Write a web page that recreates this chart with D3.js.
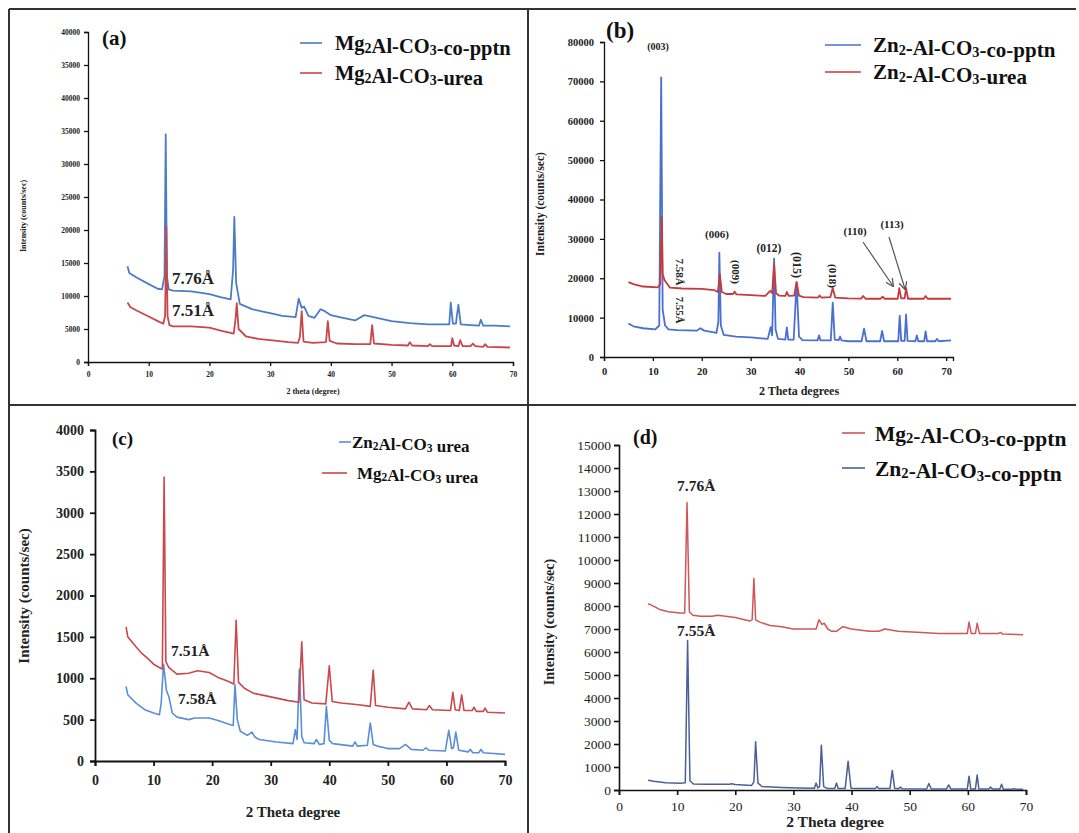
<!DOCTYPE html>
<html>
<head>
<meta charset="utf-8">
<script src="https://cdn.jsdelivr.net/npm/d3@7"></script>
<style>
body { margin: 0; background: #fff; }
svg { display: block; font-family: "Liberation Serif", "Times New Roman", serif; }
</style>
</head>
<body>
<svg id="chart" width="1079" height="833"></svg>
<script>
// (a) Mg2Al-CO3, co-precipitation vs urea
const aBlue = [[6.5,14500],[6.8,13500],[8,12800],[10,11800],[11.5,11100],[12.2,11000],[12.6,13000],[12.8,34500],[13.0,13000],[13.3,11000],[14,10800],[17,10700],[20,10300],[22,9800],[23.5,9500],[23.9,14000],[24.1,22000],[24.4,12000],[25,8800],[27,8000],[29,7600],[30,7400],[32,7000],[34.2,6800],[34.7,9600],[35.2,8200],[35.6,8400],[36.3,7000],[37.3,6700],[38.3,8000],[39,7700],[40,7100],[42,6700],[44,6300],[45.5,7100],[47,6800],[50,6200],[53,5900],[56,5700],[59.5,5700],[59.75,9000],[60.1,5800],[60.6,5800],[61,8700],[61.4,5700],[63,5600],[64.4,5500],[64.7,6400],[65.1,5500],[67,5500],[69.5,5400]];
const aRed = [[6.5,9000],[7,8300],[8,7800],[10,6900],[11.5,6200],[12.4,5800],[12.7,7000],[12.9,20500],[13.1,7000],[13.4,5600],[14,5400],[17,5400],[20,5200],[22,4700],[24,4300],[24.3,6500],[24.5,8900],[24.8,5000],[26,3900],[28,3500],[30,3300],[33,3000],[34.6,2900],[34.9,3800],[35.2,7700],[35.5,3100],[37,2900],[39.2,3000],[39.5,6200],[39.8,3200],[41,2800],[44,2700],[46.5,2700],[46.8,5600],[47.1,2800],[50,2600],[52.7,2500],[53,3000],[53.4,2500],[56,2400],[56.3,2700],[56.7,2400],[59.8,2400],[60,3600],[60.3,2500],[61,2400],[61.3,3300],[61.7,2400],[63,2400],[63.4,2800],[63.8,2400],[65.1,2300],[65.4,2700],[65.8,2300],[69.5,2200]];
const aYTicks = [0,5000,10000,15000,20000,25000,30000,35000,40000,45000,50000];
const aYLabels = ["0","5000","10000","15000","20000","25000","30000","35000","40000","35000","40000"];

// (b) Zn2-Al-CO3, co-precipitation vs urea
const bBlue = [[5,8500],[6,7800],[8,7300],[10.5,7000],[11.3,8000],[11.7,71000],[12.0,12000],[12.5,8000],[13.2,7000],[15,6800],[19,6700],[19.7,7300],[20.5,6700],[23,6100],[23.4,9000],[23.6,26500],[23.9,8000],[24.5,5600],[27,5200],[30,5000],[33.5,4600],[34.1,7600],[34.4,5500],[34.8,25000],[35.1,7000],[35.6,4600],[37.1,4400],[37.4,7500],[37.7,4400],[38.8,4400],[39.4,19000],[39.9,5200],[40.6,4300],[43.7,4200],[44,5500],[44.3,4200],[46.4,4200],[46.8,13800],[47.2,4400],[48,4300],[48.3,5200],[48.6,4200],[50,4000],[52.7,4000],[53.2,7200],[53.7,4000],[56.5,4000],[56.9,6600],[57.3,4000],[60.2,4000],[60.5,10500],[60.8,4100],[61.5,4100],[61.8,10800],[62.1,4100],[63.7,4000],[64,5500],[64.3,4000],[65.5,4000],[65.8,6500],[66.1,4000],[67.8,4000],[68.1,4600],[68.5,4000],[71,4200]];
const bRed = [[5,19000],[6,18500],[8,17900],[11,17700],[11.5,18500],[11.8,35500],[12.0,21000],[12.4,19500],[13.5,17600],[16,17400],[20,17300],[22.5,17000],[23.3,16500],[23.7,21000],[24.1,16500],[25,16000],[26.4,16000],[26.7,16600],[27.1,15900],[30,15700],[33,15500],[34,16800],[34.4,16200],[34.8,23500],[35.2,16200],[35.8,15600],[37.1,15500],[37.4,16500],[37.8,15500],[38.9,15600],[39.4,19000],[39.9,15600],[40.8,15200],[43.8,15100],[44.1,15600],[44.5,15100],[46.3,15200],[46.8,17500],[47.3,15100],[50,14900],[52.6,14800],[53,15500],[53.5,14800],[56.6,14800],[57,15300],[57.4,14800],[60.1,14800],[60.4,17500],[60.8,14900],[61.5,14900],[61.8,17500],[62.2,14800],[65.4,14800],[65.8,15500],[66.2,14800],[71,14800]];
const bYTicks = [0,10000,20000,30000,40000,50000,60000,70000,80000];

// (c) urea samples
const cRed = [[5.3,1620],[5.6,1500],[7,1380],[8,1300],[9,1240],[10,1170],[11,1130],[11.5,1110],[11.8,3430],[12.1,1200],[12.6,1130],[14,1050],[16,1060],[17.5,1090],[19.5,1070],[21,1010],[22.5,970],[23.7,930],[24.1,1700],[24.5,950],[25.5,880],[27,820],[29,790],[31,760],[33,730],[34.8,710],[35.3,1440],[35.7,740],[37,700],[39.4,690],[40,1150],[40.5,720],[42,700],[45,680],[47,660],[47.5,1100],[47.9,670],[50,650],[53,630],[53.6,710],[54.2,630],[56.6,620],[57.1,670],[57.6,620],[60.7,610],[61.1,830],[61.5,620],[62.2,610],[62.6,800],[63,610],[64.4,610],[64.7,650],[65.1,600],[66.3,600],[66.6,640],[67,590],[70,580]];
const cBlue = [[5.3,900],[5.6,800],[7,700],[8.5,620],[10,580],[11,560],[11.3,700],[11.7,1170],[12.2,850],[12.6,780],[13.2,580],[14,530],[16,500],[17,520],[19.5,520],[21,490],[23,440],[23.6,430],[23.9,920],[24.3,500],[24.8,360],[26,310],[26.8,350],[27.3,290],[28,260],[31,230],[33.8,210],[34.2,380],[34.5,260],[34.9,1110],[35.3,300],[35.7,220],[37.4,210],[37.8,260],[38.3,200],[39.1,210],[39.5,660],[40,250],[40.6,210],[44,180],[44.4,230],[44.8,180],[46.5,190],[47,460],[47.5,200],[48.2,180],[50,150],[52,150],[53,200],[54,140],[56,130],[56.5,160],[57,130],[59.8,120],[60.4,370],[60.9,150],[61.2,160],[61.6,350],[62.1,130],[63.7,110],[64.1,140],[64.5,100],[65.5,100],[65.9,140],[66.3,100],[68,90],[70,80]];
const cYTicks = [0,500,1000,1500,2000,2500,3000,3500,4000];

// (d) co-precipitation samples
const dRed = [[5,8100],[5.5,8050],[7,7850],[8.5,7750],[10.5,7700],[11.3,7700],[11.7,12500],[12.1,7750],[12.7,7600],[14,7550],[16,7550],[17,7600],[20,7500],[22.5,7350],[22.9,7400],[23.2,9200],[23.5,7400],[24.2,7300],[26,7150],[28,7100],[30,7000],[33.9,7000],[34.4,7400],[34.9,7200],[35.3,7250],[35.9,7000],[36.6,6900],[37.4,6900],[38.5,7100],[40,7000],[43,6900],[44.7,6900],[45.7,7000],[48,6900],[52,6850],[55,6800],[59.9,6800],[60.2,7300],[60.6,6800],[61.3,6800],[61.6,7250],[62,6800],[65.2,6800],[65.6,6850],[66,6780],[69.5,6750]];
const dBlue = [[5,420],[6,380],[8,320],[10.5,290],[11.4,320],[11.8,6500],[12.2,400],[12.8,260],[15,250],[19,250],[19.4,270],[20,240],[22.8,200],[23.2,350],[23.5,2100],[23.9,300],[24.6,150],[28,110],[31,90],[33.6,80],[33.9,300],[34.2,90],[34.5,150],[34.8,1950],[35.2,150],[35.8,70],[37.1,60],[37.4,300],[37.7,60],[38.9,70],[39.4,1250],[39.9,80],[41,60],[44.1,60],[44.4,150],[44.7,60],[46.6,60],[47.0,850],[47.4,80],[48.1,50],[48.4,130],[48.7,50],[52.9,40],[53.3,280],[53.7,40],[56.3,40],[56.7,220],[57.1,40],[59.9,40],[60.2,600],[60.5,40],[61.3,40],[61.6,650],[61.9,40],[63.6,40],[63.9,130],[64.2,40],[65.5,40],[65.8,250],[66.1,30],[67.6,30],[67.9,60],[68.2,30],[69.5,30]];
const dYTicks = d3.range(0, 15001, 1000);

const xTicks = [0,10,20,30,40,50,60,70];

const svg = d3.select("#chart");

// panel frame
const frame = [[9,9,1076,9],[9,9,9,833],[528,9,528,833],[9,405,1076,405]];
svg.append("g").selectAll("line").data(frame).join("line")
  .attr("x1", d => d[0]).attr("y1", d => d[1]).attr("x2", d => d[2]).attr("y2", d => d[3])
  .attr("stroke", "#333").attr("stroke-width", 2);

svg.append("defs").append("marker")
  .attr("id", "arrow").attr("viewBox", "0 0 10 10").attr("refX", 9).attr("refY", 5)
  .attr("markerWidth", 7).attr("markerHeight", 7).attr("orient", "auto")
  .append("path").attr("d", "M0,0 L10,5 L0,10").attr("fill", "none").attr("stroke", "#555").attr("stroke-width", 1.5);

// text with small digit subscripts, e.g. "Mg_2Al-CO_3"
function rich(sel, str, size) {
  str.split(/(_\d)/).forEach(part => {
    if (!part) return;
    if (part[0] === "_") {
      sel.append("tspan").attr("font-size", size * 0.68).attr("dy", size * 0.12).text(part[1]);
      sel.append("tspan").attr("dy", -size * 0.12).text("");
    } else {
      sel.append("tspan").text(part);
    }
  });
}

function panel(p) {
  const x = d3.scaleLinear().domain(p.xDomain).range(p.xRange);
  const y = d3.scaleLinear().domain(p.yDomain).range(p.yRange);
  const g = svg.append("g");

  const ya = d3.axisLeft(y).tickValues(p.yTicks).tickSize(p.tick).tickPadding(p.pad);
  if (p.yLabels) ya.tickFormat((d, i) => p.yLabels[i]);
  else ya.tickFormat(d3.format("d"));
  const gy = g.append("g").attr("transform", `translate(${p.xRange[0]},0)`).call(ya);
  const xa = d3.axisBottom(x).tickValues(xTicks).tickSize(p.tick).tickPadding(p.xpad).tickFormat(d3.format("d"));
  const gx = g.append("g").attr("transform", `translate(0,${p.yRange[0]})`).call(xa);
  [gy, gx].forEach(a => {
    a.attr("font-family", null).attr("font-size", p.tickFont)
      .attr("font-weight", p.tickBold ? "bold" : "normal");
    a.selectAll("path,line").attr("stroke", "#111").attr("stroke-width", p.axisW);
    a.selectAll("text").attr("fill", "#222");
  });

  const line = d3.line().x(d => x(d[0])).y(d => y(d[1]));
  p.series.forEach(s => {
    g.append("path").datum(s.data).attr("d", line)
      .attr("fill", "none").attr("stroke", s.color).attr("stroke-width", p.lineW)
      .attr("stroke-linejoin", "round");
  });

  // axis titles
  g.append("text").attr("x", p.xTitle[0]).attr("y", p.xTitle[1]).attr("text-anchor", "middle")
    .attr("font-size", p.titleFont).attr("font-weight", "bold").attr("fill", "#222").text(p.xTitle[2]);
  g.append("text").attr("transform", `translate(${p.yTitle[0]},${p.yTitle[1]}) rotate(-90)`)
    .attr("text-anchor", "middle").attr("dominant-baseline", "middle")
    .attr("font-size", p.yTitleFont).attr("font-weight", "bold").attr("fill", "#222").text(p.yTitle[2]);

  // panel tag
  g.append("text").attr("x", p.tag[0]).attr("y", p.tag[1]).attr("font-size", p.tag[3])
    .attr("font-weight", "bold").attr("fill", "#111").text(p.tag[2]);

  // legend
  p.legend.forEach(l => {
    g.append("line").attr("x1", l.x1).attr("x2", l.x2).attr("y1", l.y).attr("y2", l.y)
      .attr("stroke", l.color).attr("stroke-width", 1.6);
    const t = g.append("text").attr("x", l.tx).attr("y", l.y).attr("dy", "0.35em")
      .attr("font-size", p.legFont).attr("font-weight", "bold").attr("fill", "#111");
    rich(t, l.text, p.legFont);
  });

  // annotations
  (p.notes || []).forEach(n => {
    const t = g.append("text").attr("font-size", n.size).attr("font-weight", "bold").attr("fill", "#222")
      .attr("text-anchor", n.anchor || "start").attr("dominant-baseline", "middle").text(n.text);
    if (n.rot) t.attr("transform", `translate(${n.x},${n.y}) rotate(${n.rot})`).attr("text-anchor", "middle");
    else t.attr("x", n.x).attr("y", n.y);
  });
  (p.arrows || []).forEach(a => {
    g.append("line").attr("x1", a[0]).attr("y1", a[1]).attr("x2", a[2]).attr("y2", a[3])
      .attr("stroke", "#555").attr("stroke-width", 1.2).attr("marker-end", "url(#arrow)");
  });
}

panel({
  xDomain: [0, 70], xRange: [88, 513], yDomain: [0, 50000], yRange: [362, 32],
  yTicks: aYTicks, yLabels: aYLabels, tick: 4, pad: 4, xpad: 6,
  tickFont: 7.5, tickBold: true, axisW: 1.3, lineW: 1.8,
  titleFont: 8, yTitleFont: 8,
  xTitle: [313, 394, "2 theta (degree)"], yTitle: [24, 216, "Intensity (counts/sec)"],
  tag: [102, 45, "(a)", 21],
  series: [{data: aBlue, color: "#4c7cc6"}, {data: aRed, color: "#c9474b"}],
  legFont: 20.5,
  legend: [
    {x1: 300, x2: 322, tx: 335, y: 43, color: "#4c7cc6", text: "Mg_2Al-CO_3-co-pptn"},
    {x1: 300, x2: 322, tx: 335, y: 73, color: "#c9474b", text: "Mg_2Al-CO_3-urea"}
  ],
  notes: [
    {x: 172, y: 280, text: "7.76Å", size: 17},
    {x: 172, y: 312, text: "7.51Å", size: 17}
  ]
});

panel({
  xDomain: [0, 71.4], xRange: [604, 953], yDomain: [0, 80000], yRange: [357, 42],
  yTicks: bYTicks, tick: 4, pad: 6, xpad: 7,
  tickFont: 10.5, tickBold: true, axisW: 1.3, lineW: 1.8,
  titleFont: 12, yTitleFont: 11.5,
  xTitle: [799, 395, "2 Theta degrees"], yTitle: [541, 204, "Intensity (counts/sec)"],
  tag: [606, 38, "(b)", 23],
  series: [{data: bBlue, color: "#4a6fd0"}, {data: bRed, color: "#c53a3d"}],
  legFont: 21,
  legend: [
    {x1: 825, x2: 861, tx: 873, y: 45, color: "#4a6fd0", text: "Zn_2-Al-CO_3-co-pptn"},
    {x1: 825, x2: 861, tx: 873, y: 72, color: "#c53a3d", text: "Zn_2-Al-CO_3-urea"}
  ],
  notes: [
    {x: 658, y: 48, text: "(003)", size: 10, anchor: "middle"},
    {x: 717, y: 235, text: "(006)", size: 11, anchor: "middle"},
    {x: 769, y: 249, text: "(012)", size: 11.5, anchor: "middle"},
    {x: 855, y: 232, text: "(110)", size: 11, anchor: "middle"},
    {x: 892, y: 225, text: "(113)", size: 11, anchor: "middle"},
    {x: 735, y: 272, text: "(009)", size: 11, rot: 90},
    {x: 796, y: 265, text: "(015)", size: 12, rot: 90},
    {x: 832, y: 276, text: "(018)", size: 11, rot: 90},
    {x: 679, y: 272, text: "7.58Å", size: 11, rot: 90},
    {x: 679, y: 310, text: "7.55Å", size: 11, rot: 90}
  ],
  arrows: [[863, 242, 893, 286], [889, 237, 905, 289]]
});

panel({
  xDomain: [0, 70], xRange: [95, 505], yDomain: [0, 4000], yRange: [761, 430],
  yTicks: cYTicks, tick: 5, pad: 6, xpad: 9,
  tickFont: 14, tickBold: true, axisW: 1.8, lineW: 1.6,
  titleFont: 15, yTitleFont: 15,
  xTitle: [293, 817, "2 Theta degree"], yTitle: [26, 596, "Intensity (counts/sec)"],
  tag: [112, 445, "(c)", 19],
  series: [{data: cBlue, color: "#5a8ed8"}, {data: cRed, color: "#cb484c"}],
  legFont: 17,
  legend: [
    {x1: 339, x2: 351, tx: 352, y: 442, color: "#5a8ed8", text: "Zn_2Al-CO_3 urea"},
    {x1: 322, x2: 347, tx: 357, y: 473, color: "#cb484c", text: "Mg_2Al-CO_3 urea"}
  ],
  notes: [
    {x: 171, y: 652, text: "7.51Å", size: 15.5},
    {x: 178, y: 700, text: "7.58Å", size: 15.5}
  ]
});

panel({
  xDomain: [0, 70], xRange: [619, 1026], yDomain: [0, 15000], yRange: [790, 445],
  yTicks: dYTicks, tick: 5, pad: 3, xpad: 6,
  tickFont: 13.5, tickBold: false, axisW: 1.6, lineW: 1.5,
  titleFont: 15.5, yTitleFont: 14,
  xTitle: [835, 827, "2 Theta degree"], yTitle: [551, 622, "Intensity (counts/sec)"],
  tag: [633, 444, "(d)", 20],
  series: [{data: dRed, color: "#d0565a"}, {data: dBlue, color: "#4c5f96"}],
  legFont: 21.5,
  legend: [
    {x1: 842, x2: 865, tx: 875, y: 433, color: "#d0565a", text: "Mg_2-Al-CO_3-co-pptn"},
    {x1: 842, x2: 865, tx: 875, y: 468, color: "#4c5f96", text: "Zn_2-Al-CO_3-co-pptn"}
  ],
  notes: [
    {x: 677, y: 487, text: "7.76Å", size: 15.5},
    {x: 677, y: 632, text: "7.55Å", size: 15.5}
  ]
});
</script>
</body>
</html>
